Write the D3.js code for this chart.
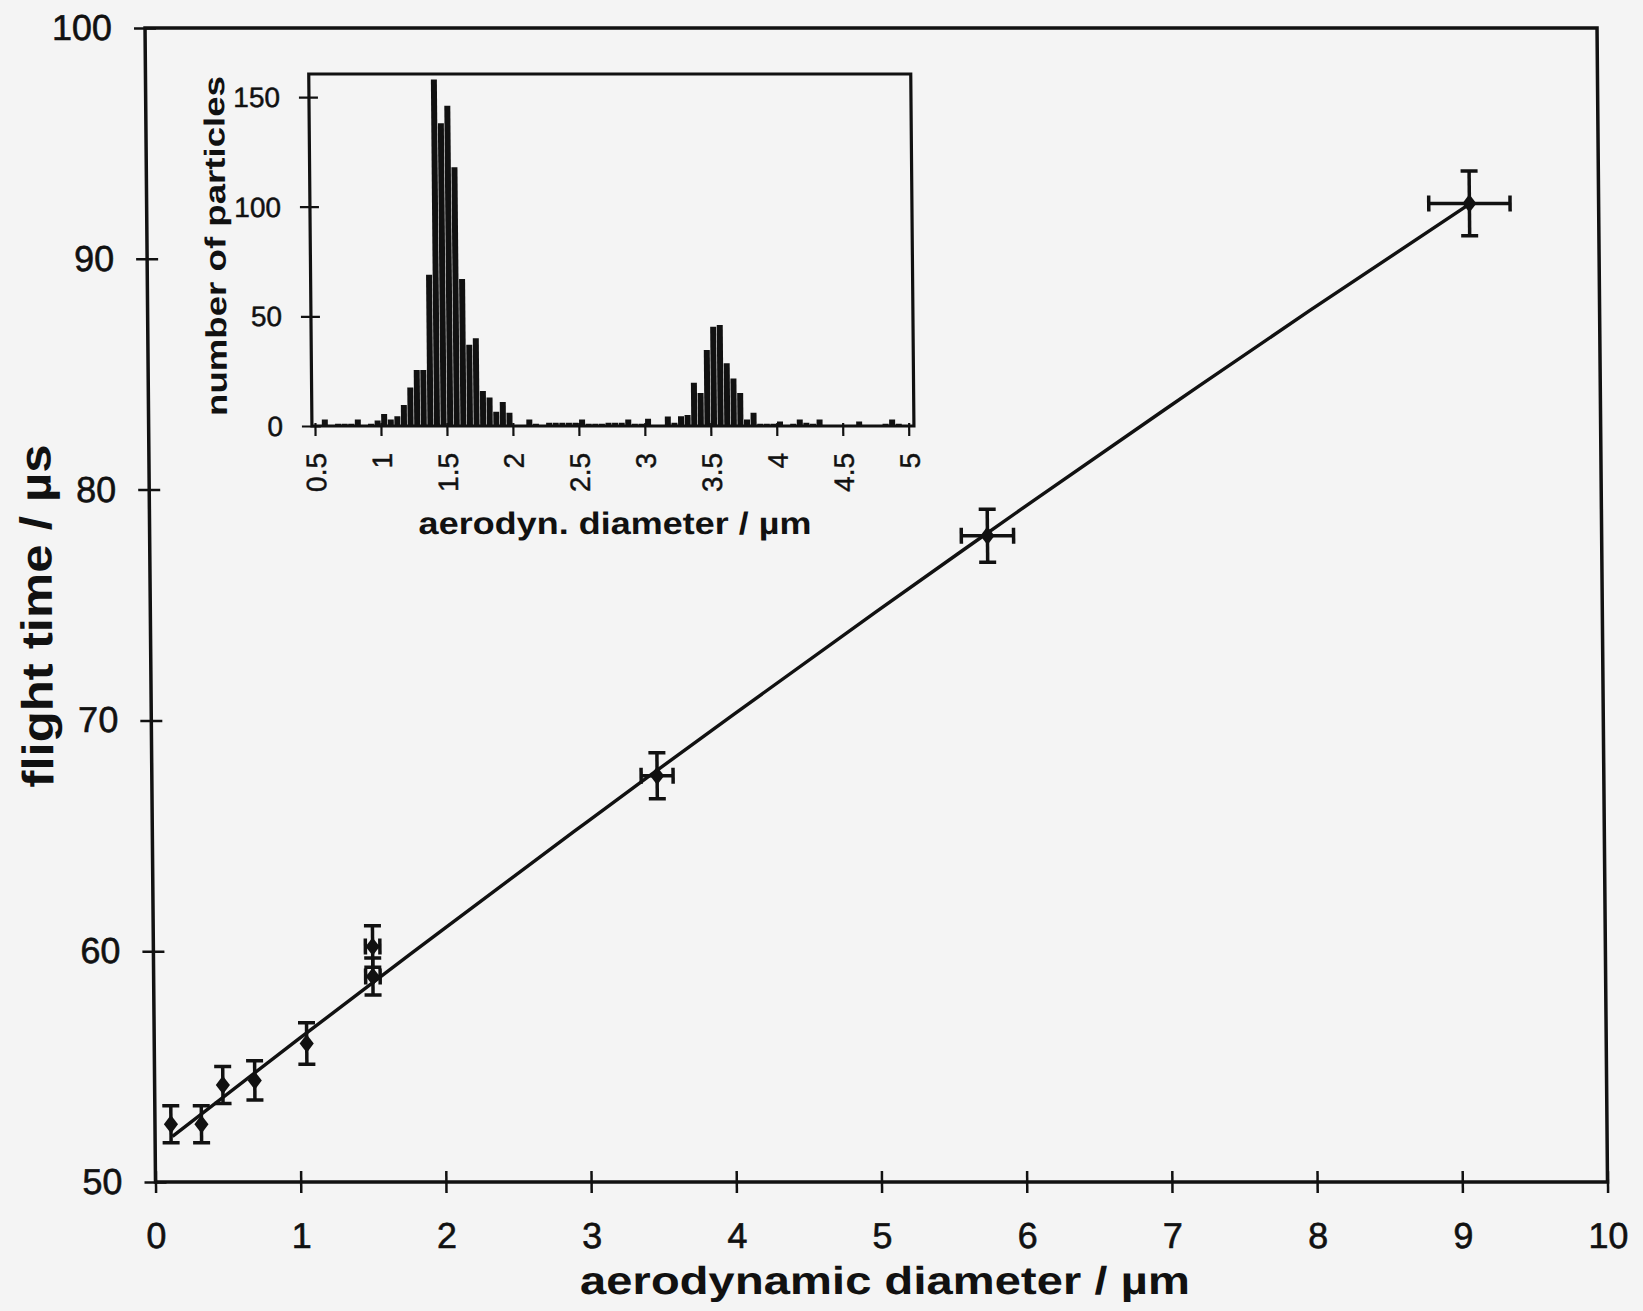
<!DOCTYPE html>
<html>
<head>
<meta charset="utf-8">
<script src="https://cdn.jsdelivr.net/npm/d3@7"></script>
<style>
  body { margin: 0; background: #f4f4f4; }
  svg { display: block; font-family: "Liberation Sans", Arial, Helvetica, sans-serif; }
</style>
</head>
<body>
<svg id="chart" width="1643" height="1311"></svg>
<script>
// calibration points: aerodynamic diameter (um) vs flight time (us)
var diameter   = [0.11, 0.32, 0.47, 0.69, 1.05, 1.51, 1.51, 3.48, 5.77, 9.11];
var flightTime = [52.5, 52.5, 54.2, 54.4, 56.0, 60.2, 58.9, 67.6, 78.0, 92.4];
var timeErr    = [0.8, 0.8, 0.8, 0.85, 0.9, 0.9, 0.8, 1.0, 1.15, 1.4];
var diamErr    = [0, 0, 0, 0, 0, 0.05, 0.05, 0.11, 0.18, 0.28];

// fitted curve
var fitX = [0.12, 1, 2, 3, 4, 5, 6, 7, 8, 9.11];
var fitY = [51.98, 56.22, 60.96, 65.63, 70.21, 74.71, 79.13, 83.47, 87.74, 92.37];

var xTicks = [0, 1, 2, 3, 4, 5, 6, 7, 8, 9, 10];
var yTicks = [50, 60, 70, 80, 90, 100];

// inset histogram, bins of 0.05 um starting at 0.5 um
var binStart = 0.5;
var binWidth = 0.05;
var counts = [
  0.5, 3, 0.5, 1, 1, 1, 3, 0.5, 1, 2.5,
  5.5, 3, 4.5, 9.6, 17.5, 25.5, 25.5, 69, 158, 138,
  146, 118, 67, 37, 40, 16, 13, 6.5, 11, 6,
  0.5, 0.5, 3, 1, 0.5, 1.5, 1.5, 1.5, 1.5, 1.5,
  3, 1, 1, 1, 1.5, 1.5, 1.5, 3, 1, 1,
  3.3, 0.5, 0.5, 4.3, 1.5, 4.5, 5, 19.7, 15, 34.7,
  45.3, 46, 28.6, 21.7, 15, 3, 6, 1, 1, 1,
  2, 0.5, 1, 3, 1.5, 1, 3, 0.5, 0.5, 0.5,
  0.5, 0.5, 2, 0.5, 0.5, 0.5, 1, 3, 1, 0.5
];
var insetXTicks = [0.5, 1, 1.5, 2, 2.5, 3, 3.5, 4, 4.5, 5];
var insetYTicks = [0, 50, 100, 150];

var ink = "#111";
var svg = d3.select("#chart");
svg.append("rect").attr("width", 1643).attr("height", 1311).attr("fill", "#f4f4f4");

// the scan is slightly skewed, keep the bottom axis fixed
var g = svg.append("g").attr("transform", "translate(0,1182) skewX(0.52) translate(0,-1182)");

var x = d3.scaleLinear().domain([0, 10]).range([155.5, 1607.5]);
var y = d3.scaleLinear().domain([50, 100]).range([1182, 28]);

g.append("rect")
  .attr("x", x(0)).attr("y", y(100))
  .attr("width", x(10) - x(0)).attr("height", y(50) - y(100))
  .attr("fill", "none").attr("stroke", ink).attr("stroke-width", 3.5);

var xAxis = g.append("g")
  .attr("transform", "translate(0," + y(50) + ")")
  .call(d3.axisBottom(x).tickValues(xTicks).tickSize(11).tickPadding(29).tickFormat(d3.format("d")));
xAxis.selectAll(".tick line").attr("y1", -11).attr("stroke-width", 2.5);

var yAxis = g.append("g")
  .attr("transform", "translate(" + x(0) + ",0)")
  .call(d3.axisLeft(y).tickValues(yTicks).tickSize(11).tickPadding(22).tickFormat(d3.format("d")));
yAxis.selectAll(".tick line").attr("x1", 11).attr("stroke-width", 2.5);

[xAxis, yAxis].forEach(function (a) {
  a.select(".domain").remove();
  a.selectAll(".tick line").attr("stroke", ink);
  a.selectAll(".tick text").attr("fill", ink).attr("font-size", 36).attr("font-family", null)
    .attr("stroke", ink).attr("stroke-width", 0.6);
});

// fit line
var line = d3.line()
  .x(function (d, i) { return x(fitX[i]); })
  .y(function (d) { return y(d); })
  .curve(d3.curveNatural);
g.append("path").datum(fitY).attr("d", line)
  .attr("fill", "none").attr("stroke", ink).attr("stroke-width", 3.4);

// error bars
var pts = diameter.map(function (d, i) {
  return { x: d, y: flightTime[i], ey: timeErr[i], ex: diamErr[i] };
});
var eb = g.append("g").attr("stroke", ink).attr("stroke-width", 3.5).attr("fill", "none");
pts.forEach(function (p) {
  var cx = x(p.x), cy = y(p.y);
  eb.append("line").attr("x1", cx).attr("x2", cx).attr("y1", y(p.y - p.ey)).attr("y2", y(p.y + p.ey));
  eb.append("line").attr("x1", cx - 8.5).attr("x2", cx + 8.5).attr("y1", y(p.y - p.ey)).attr("y2", y(p.y - p.ey));
  eb.append("line").attr("x1", cx - 8.5).attr("x2", cx + 8.5).attr("y1", y(p.y + p.ey)).attr("y2", y(p.y + p.ey));
  if (p.ex > 0) {
    eb.append("line").attr("x1", x(p.x - p.ex)).attr("x2", x(p.x + p.ex)).attr("y1", cy).attr("y2", cy);
    eb.append("line").attr("x1", x(p.x - p.ex)).attr("x2", x(p.x - p.ex)).attr("y1", cy - 8).attr("y2", cy + 8);
    eb.append("line").attr("x1", x(p.x + p.ex)).attr("x2", x(p.x + p.ex)).attr("y1", cy - 8).attr("y2", cy + 8);
  }
});

var diamond = {
  draw: function (ctx, size) {
    var r = Math.sqrt(size) / 2;
    ctx.moveTo(0, -r * 1.3); ctx.lineTo(r, 0); ctx.lineTo(0, r * 1.3); ctx.lineTo(-r, 0); ctx.closePath();
  }
};
g.selectAll(".pt").data(pts).enter().append("path")
  .attr("class", "pt")
  .attr("transform", function (d) { return "translate(" + x(d.x) + "," + y(d.y) + ")"; })
  .attr("d", d3.symbol().type(diamond).size(200))
  .attr("fill", ink);

// axis titles
g.append("text")
  .attr("x", 884).attr("y", 1294)
  .attr("text-anchor", "middle").attr("font-size", 39).attr("font-weight", "bold").attr("fill", ink)
  .attr("textLength", 610).attr("lengthAdjust", "spacingAndGlyphs")
  .text("aerodynamic diameter / µm");

g.append("text")
  .attr("transform", "translate(57,616) rotate(-90)")
  .attr("text-anchor", "middle").attr("font-size", 44).attr("font-weight", "bold").attr("fill", ink)
  .attr("textLength", 343).attr("lengthAdjust", "spacingAndGlyphs")
  .text("flight time / µs");

// ---- inset histogram ----
var ix = d3.scaleLinear().domain([0.477, 5.04]).range([318.8, 920.8]);
var iy = d3.scaleLinear().domain([0, 160.5]).range([426, 74]);

var inset = g.append("g");
inset.append("rect")
  .attr("x", ix.range()[0]).attr("y", iy.range()[1])
  .attr("width", ix.range()[1] - ix.range()[0]).attr("height", iy.range()[0] - iy.range()[1])
  .attr("fill", "#f4f4f4").attr("stroke", ink).attr("stroke-width", 3.2);

inset.selectAll(".bar").data(counts).enter().append("rect")
  .attr("class", "bar")
  .attr("x", function (d, i) { return ix(binStart + i * binWidth) + 0.3; })
  .attr("width", ix(binStart + binWidth) - ix(binStart) - 0.6)
  .attr("y", function (d) { return iy(d); })
  .attr("height", function (d) { return iy(0) - iy(d); })
  .attr("fill", ink);

var ixAxis = inset.append("g")
  .attr("transform", "translate(0," + iy(0) + ")")
  .call(d3.axisBottom(ix).tickValues(insetXTicks).tickSize(10).tickFormat(d3.format("")));
ixAxis.selectAll(".tick line").attr("y1", -3).attr("stroke-width", 2.2);
ixAxis.selectAll(".tick text")
  .attr("transform", "rotate(-90)")
  .attr("x", -27).attr("y", 0).attr("dy", "0.36em")
  .attr("text-anchor", "end");

var iyAxis = inset.append("g")
  .attr("transform", "translate(" + ix.range()[0] + ",0)")
  .call(d3.axisLeft(iy).tickValues(insetYTicks).tickSize(10).tickPadding(19));
iyAxis.selectAll(".tick line").attr("x1", 9).attr("stroke-width", 2.2);

[ixAxis, iyAxis].forEach(function (a) {
  a.select(".domain").remove();
  a.selectAll(".tick line").attr("stroke", ink);
  a.selectAll(".tick text").attr("fill", ink).attr("font-size", 28).attr("font-family", null)
    .attr("stroke", ink).attr("stroke-width", 0.5);
});
iyAxis.selectAll(".tick text").attr("dy", "0.34em");

inset.append("text")
  .attr("x", 621).attr("y", 534)
  .attr("text-anchor", "middle").attr("font-size", 31).attr("font-weight", "bold").attr("fill", ink)
  .attr("textLength", 393).attr("lengthAdjust", "spacingAndGlyphs")
  .text("aerodyn. diameter / µm");

inset.append("text")
  .attr("transform", "translate(234,246) rotate(-90)")
  .attr("text-anchor", "middle").attr("font-size", 29).attr("font-weight", "bold").attr("fill", ink)
  .attr("textLength", 340).attr("lengthAdjust", "spacingAndGlyphs")
  .text("number of particles");
</script>
</body>
</html>
